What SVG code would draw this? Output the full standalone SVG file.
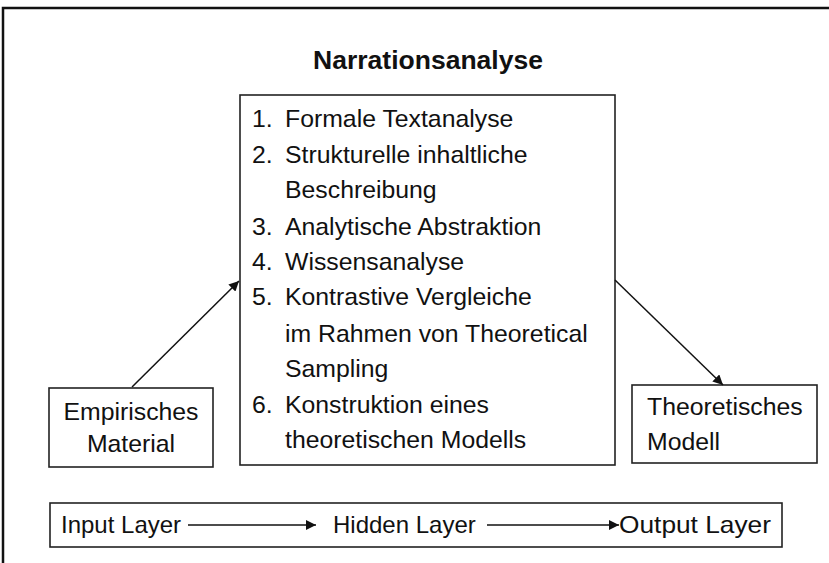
<svg xmlns="http://www.w3.org/2000/svg" width="829" height="563" viewBox="0 0 829 563">
<style>
.box{fill:#fff;stroke:#222;stroke-width:1.6}
.t{font-family:"Liberation Sans",Arial,sans-serif;font-size:24.8px;fill:#111}
.s{font-family:"Liberation Sans",Arial,sans-serif;font-size:24px;fill:#111}
.title{font-family:"Liberation Sans",Arial,sans-serif;font-size:26.5px;font-weight:bold;fill:#111}
.c{stroke:#111;stroke-width:1.5;fill:none}
</style>
<defs>
<marker id="ah" viewBox="0 0 10 10" refX="10" refY="5" markerWidth="10" markerHeight="10" markerUnits="userSpaceOnUse" orient="auto">
<path d="M0,0 L10,5 L0,10 z" fill="#111"/>
</marker>
</defs>
<rect x="0" y="0" width="829" height="563" fill="#fff"/>
<rect x="3" y="8" width="900" height="700" fill="none" stroke="#111" stroke-width="2.5"/>
<g id="title"><text class="title" x="428" y="69" text-anchor="middle">Narrationsanalyse</text></g>
<g id="main">
<rect class="box" x="240" y="95" width="375" height="370"/>
<text class="t" x="252" y="127">1.</text><text class="t" x="285" y="127">Formale Textanalyse</text>
<text class="t" x="252" y="163">2.</text><text class="t" x="285" y="163">Strukturelle inhaltliche</text>
<text class="t" x="285" y="198">Beschreibung</text>
<text class="t" x="252" y="235">3.</text><text class="t" x="285" y="235">Analytische Abstraktion</text>
<text class="t" x="252" y="270">4.</text><text class="t" x="285" y="270">Wissensanalyse</text>
<text class="t" x="252" y="305">5.</text><text class="t" x="285" y="305">Kontrastive Vergleiche</text>
<text class="t" x="285" y="342">im Rahmen von Theoretical</text>
<text class="t" x="285" y="377">Sampling</text>
<text class="t" x="252" y="413">6.</text><text class="t" x="285" y="413">Konstruktion eines</text>
<text class="t" x="285" y="448">theoretischen Modells</text>
</g>
<g id="input">
<rect class="box" x="49" y="388" width="164" height="79"/>
<text class="t" x="131" y="420" text-anchor="middle">Empirisches</text>
<text class="t" x="131" y="452" text-anchor="middle">Material</text>
</g>
<g id="output">
<rect class="box" x="632" y="385" width="185" height="78"/>
<text class="t" x="647" y="415">Theoretisches</text>
<text class="t" x="647" y="450">Modell</text>
</g>
<g id="legend">
<rect class="box" x="50" y="503" width="732" height="44"/>
<text class="s" x="61" y="533">Input Layer</text>
<text class="s" x="333" y="533">Hidden Layer</text>
<text class="s" x="619" y="533" textLength="152" lengthAdjust="spacingAndGlyphs">Output Layer</text>
</g>
<g id="connectors">
<line class="c" x1="132" y1="387" x2="239" y2="281" marker-end="url(#ah)"/>
<line class="c" x1="615" y1="280" x2="723" y2="385" marker-end="url(#ah)"/>
<line class="c" x1="188" y1="525" x2="316" y2="525" marker-end="url(#ah)"/>
<line class="c" x1="487" y1="525" x2="619" y2="525" marker-end="url(#ah)"/>
</g>
</svg>
